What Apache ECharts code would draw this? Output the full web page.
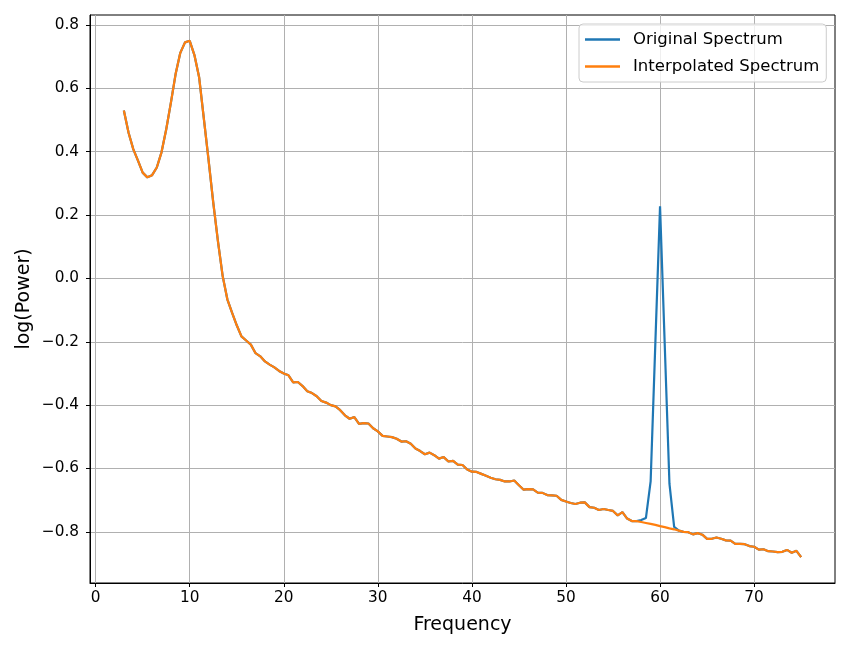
<!DOCTYPE html>
<html>
<head>
<meta charset="utf-8">
<script src="https://cdn.jsdelivr.net/npm/echarts@6/dist/echarts.min.js"></script>
<style>
  html, body { margin: 0; padding: 0; background: #fff; }
  #mainChart { width: 850px; height: 650px; }
</style>
</head>
<body>
<div id="mainChart"></div>
<script>
// frequencies (Hz), 0.5 Hz steps
var freqs = [
    3, 3.5, 4, 4.5, 5, 5.5, 6, 6.5, 7, 7.5,
    8, 8.5, 9, 9.5, 10, 10.5, 11, 11.5, 12, 12.5,
    13, 13.5, 14, 14.5, 15, 15.5, 16, 16.5, 17, 17.5,
    18, 18.5, 19, 19.5, 20, 20.5, 21, 21.5, 22, 22.5,
    23, 23.5, 24, 24.5, 25, 25.5, 26, 26.5, 27, 27.5,
    28, 28.5, 29, 29.5, 30, 30.5, 31, 31.5, 32, 32.5,
    33, 33.5, 34, 34.5, 35, 35.5, 36, 36.5, 37, 37.5,
    38, 38.5, 39, 39.5, 40, 40.5, 41, 41.5, 42, 42.5,
    43, 43.5, 44, 44.5, 45, 45.5, 46, 46.5, 47, 47.5,
    48, 48.5, 49, 49.5, 50, 50.5, 51, 51.5, 52, 52.5,
    53, 53.5, 54, 54.5, 55, 55.5, 56, 56.5, 57, 57.5,
    58, 58.5, 59, 59.5, 60, 60.5, 61, 61.5, 62, 62.5,
    63, 63.5, 64, 64.5, 65, 65.5, 66, 66.5, 67, 67.5,
    68, 68.5, 69, 69.5, 70, 70.5, 71, 71.5, 72, 72.5,
    73, 73.5, 74, 74.5, 75
];

// interpolated spectrum (line noise removed)
var interpPower = [
    0.530, 0.460, 0.408, 0.372, 0.334, 0.319, 0.326, 0.350, 0.398, 0.470,
    0.555, 0.645, 0.712, 0.745, 0.750, 0.705, 0.635, 0.505, 0.375, 0.240,
    0.118, 0.008, -0.066, -0.108, -0.148, -0.183, -0.196, -0.209, -0.236, -0.246,
    -0.262, -0.272, -0.281, -0.292, -0.300, -0.306, -0.328, -0.327, -0.340, -0.356,
    -0.362, -0.372, -0.387, -0.392, -0.400, -0.404, -0.416, -0.432, -0.443, -0.438,
    -0.459, -0.457, -0.458, -0.473, -0.483, -0.497, -0.499, -0.501, -0.506, -0.515,
    -0.514, -0.522, -0.537, -0.545, -0.555, -0.550, -0.558, -0.569, -0.564, -0.578,
    -0.576, -0.588, -0.589, -0.603, -0.610, -0.611, -0.617, -0.623, -0.629, -0.634,
    -0.636, -0.641, -0.641, -0.638, -0.653, -0.667, -0.665, -0.666, -0.676, -0.677,
    -0.684, -0.685, -0.686, -0.699, -0.704, -0.709, -0.712, -0.708, -0.707, -0.722,
    -0.724, -0.731, -0.728, -0.731, -0.734, -0.748, -0.738, -0.758, -0.766, -0.766,
    -0.769, -0.772, -0.775, -0.778, -0.782, -0.785, -0.789, -0.792, -0.796, -0.800,
    -0.801, -0.808, -0.804, -0.809, -0.822, -0.822, -0.818, -0.822, -0.827, -0.828,
    -0.838, -0.838, -0.839, -0.845, -0.847, -0.856, -0.855, -0.861, -0.862, -0.864,
    -0.863, -0.857, -0.866, -0.860, -0.880
];

// original spectrum differs only around the 60 Hz line noise
var peakFreqs = [58, 58.5, 59, 59.5, 60, 60.5, 61, 61.5, 62];
var peakPower = [-0.763, -0.756, -0.641, -0.205, 0.228, -0.21, -0.648, -0.784, -0.796];

var xTicks = [0, 10, 20, 30, 40, 50, 60, 70];
var yTicks = [-0.8, -0.6, -0.4, -0.2, 0.0, 0.2, 0.4, 0.6, 0.8];

var origPower = interpPower.slice();
for (var i = 0; i < peakFreqs.length; i++) {
    origPower[freqs.indexOf(peakFreqs[i])] = peakPower[i];
}

function pairs(ys) {
    var out = [];
    for (var i = 0; i < freqs.length; i++) out.push([freqs[i], ys[i]]);
    return out;
}

var font = "DejaVu Sans";
var chart = echarts.init(document.getElementById("mainChart"));
chart.setOption({
    backgroundColor: "#fff",
    animation: false,
    textStyle: { fontFamily: font, color: "#000" },
    grid: {
        show: true, left: 90, right: 15, top: 15, bottom: 67,
        borderColor: "#000", borderWidth: 1, backgroundColor: "transparent",
        containLabel: false
    },
    legend: {
        left: 579, top: 24, orient: "vertical",
        padding: [7, 7, 7, 6],
        itemGap: 10, itemWidth: 35, itemHeight: 14,
        icon: "path://M0,0L35,0L35,2.4L0,2.4Z",
        borderColor: "#cccccc", borderWidth: 1, borderRadius: 4,
        backgroundColor: "rgba(255,255,255,0.8)",
        textStyle: { fontFamily: font, fontSize: 16.5, lineHeight: 14, color: "#000", padding: [0, 0, 0, 8] },
        data: ["Original Spectrum", "Interpolated Spectrum"]
    },
    xAxis: {
        type: "value", min: -0.6, max: 78.6,
        name: "Frequency", nameLocation: "middle", nameGap: 33,
        nameTextStyle: { fontFamily: font, fontSize: 19, color: "#000" },
        axisLine: { onZero: false, lineStyle: { color: "#000", width: 1 } },
        axisTick: { show: true, length: 4, customValues: xTicks, lineStyle: { color: "#000" } },
        axisLabel: { customValues: xTicks, margin: 8, fontFamily: font, fontSize: 15.3, color: "#000" },
        splitLine: { show: true, lineStyle: { color: "#b0b0b0", width: 1 } }
    },
    yAxis: {
        type: "value", min: -0.9615, max: 0.8315,
        name: "log(Power)", nameLocation: "middle", nameGap: 56, nameMoveOverlap: false,
        nameTextStyle: { fontFamily: font, fontSize: 19, color: "#000" },
        axisLine: { onZero: false, lineStyle: { color: "#000", width: 1 } },
        axisTick: { show: true, length: 4, customValues: yTicks, lineStyle: { color: "#000" } },
        axisLabel: {
            customValues: yTicks, margin: 11, fontFamily: font, fontSize: 15.3, color: "#000",
            formatter: function (v) { return v.toFixed(1).replace("-", "\u2212"); }
        },
        splitLine: { show: true, lineStyle: { color: "#b0b0b0", width: 1 } }
    },
    series: [
        {
            name: "Original Spectrum", type: "line", data: pairs(origPower),
            symbol: "none", lineStyle: { color: "#1f77b4", width: 2.2 }, itemStyle: { color: "#1f77b4" }
        },
        {
            name: "Interpolated Spectrum", type: "line", data: pairs(interpPower),
            symbol: "none", lineStyle: { color: "#ff7f0e", width: 2.2 }, itemStyle: { color: "#ff7f0e" }
        }
    ]
});
</script>
</body>
</html>
